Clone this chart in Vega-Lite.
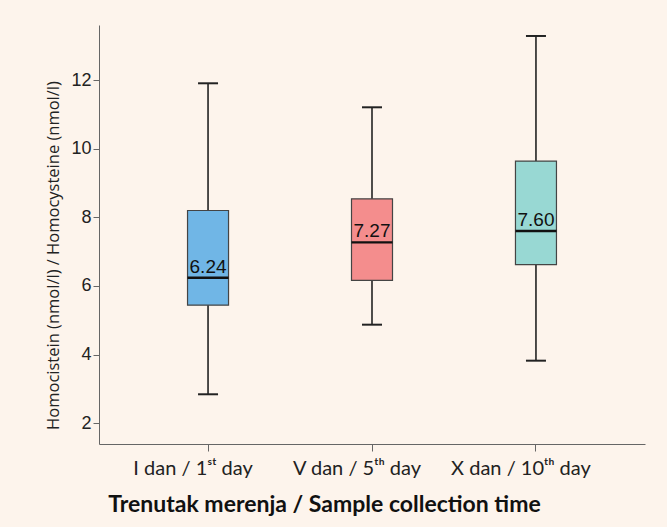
{
  "$schema": "https://vega.github.io/schema/vega-lite/v6.json",
  "width": 546,
  "height": 419,
  "autosize": {"type": "none"},
  "padding": {"left": 99, "top": 25, "right": 22, "bottom": 83},
  "background": "#fdf4ec",
  "config": {"view": {"stroke": null}, "font": "Liberation Sans"},
  "data": {
    "values": [
      {"day": "I dan / 1ˢᵗ day", "min": 2.84, "q1": 5.44, "median": 6.24, "q3": 8.20, "max": 11.91, "label": "6.24"},
      {"day": "V dan / 5ᵗʰ day", "min": 4.87, "q1": 6.16, "median": 7.27, "q3": 8.54, "max": 11.21, "label": "7.27"},
      {"day": "X dan / 10ᵗʰ day", "min": 3.82, "q1": 6.62, "median": 7.60, "q3": 9.64, "max": 13.29, "label": "7.60"}
    ]
  },
  "encoding": {
    "x": {
      "field": "day",
      "type": "nominal",
      "sort": null,
      "scale": {"paddingInner": 0, "paddingOuter": 0.165},
      "axis": {
        "labelAngle": 0,
        "labelFont": "Lato",
        "labelFontSize": 20,
        "labelColor": "#222",
        "labelPadding": 7,
        "labelBaseline": "top",
        "labelOffset": -15,
        "tickSize": 7,
        "tickColor": "#666",
        "domainColor": "#666",
        "title": "Trenutak merenja / Sample collection time",
        "titleFont": "Lato",
        "titleFontSize": 23,
        "titleFontWeight": "bold",
        "titleColor": "#111",
        "titleX": 225,
        "titleY": 67,
        "titleAlign": "center",
        "titleBaseline": "alphabetic"
      }
    }
  },
  "layer": [
    {
      "mark": {"type": "rule", "color": "#222", "strokeWidth": 1.6},
      "encoding": {
        "y": {
          "field": "min",
          "type": "quantitative",
          "scale": {"domain": [1.39, 13.61], "nice": false, "zero": false},
          "axis": {
            "values": [2, 4, 6, 8, 10, 12],
            "format": "d",
            "grid": false,
            "domainColor": "#666",
            "tickColor": "#666",
            "tickSize": 6,
            "labelFontSize": 18,
            "labelColor": "#222",
            "labelPadding": 2,
            "title": "Homocistein (nmol/l) / Homocysteine (nmol/l)",
            "titleFont": "Open Sans",
            "titleFontSize": 16.5,
            "titleFontWeight": "normal",
            "titleColor": "#222",
            "titleX": -46,
            "titleY": 230,
            "titleAngle": -90,
            "titleAlign": "center",
            "titleBaseline": "middle"
          }
        },
        "y2": {"field": "max"}
      }
    },
    {
      "mark": {"type": "bar", "size": 41, "stroke": "#444", "strokeWidth": 1.2},
      "encoding": {
        "y": {"field": "q1", "type": "quantitative"},
        "y2": {"field": "q3"},
        "color": {
          "field": "day",
          "type": "nominal",
          "sort": null,
          "scale": {"range": ["#70b6e6", "#f48d8d", "#98d8d3"]},
          "legend": null
        }
      }
    },
    {
      "mark": {"type": "tick", "size": 41, "thickness": 2.4, "color": "#111", "opacity": 1},
      "encoding": {"y": {"field": "median", "type": "quantitative"}}
    },
    {
      "mark": {"type": "tick", "size": 20, "thickness": 2, "color": "#222", "opacity": 1},
      "encoding": {"y": {"field": "min", "type": "quantitative"}}
    },
    {
      "mark": {"type": "tick", "size": 20, "thickness": 2, "color": "#222", "opacity": 1},
      "encoding": {"y": {"field": "max", "type": "quantitative"}}
    },
    {
      "mark": {"type": "text", "baseline": "alphabetic", "dy": -5, "fontSize": 19, "color": "#111"},
      "encoding": {
        "y": {"field": "median", "type": "quantitative"},
        "text": {"field": "label"}
      }
    }
  ]
}
